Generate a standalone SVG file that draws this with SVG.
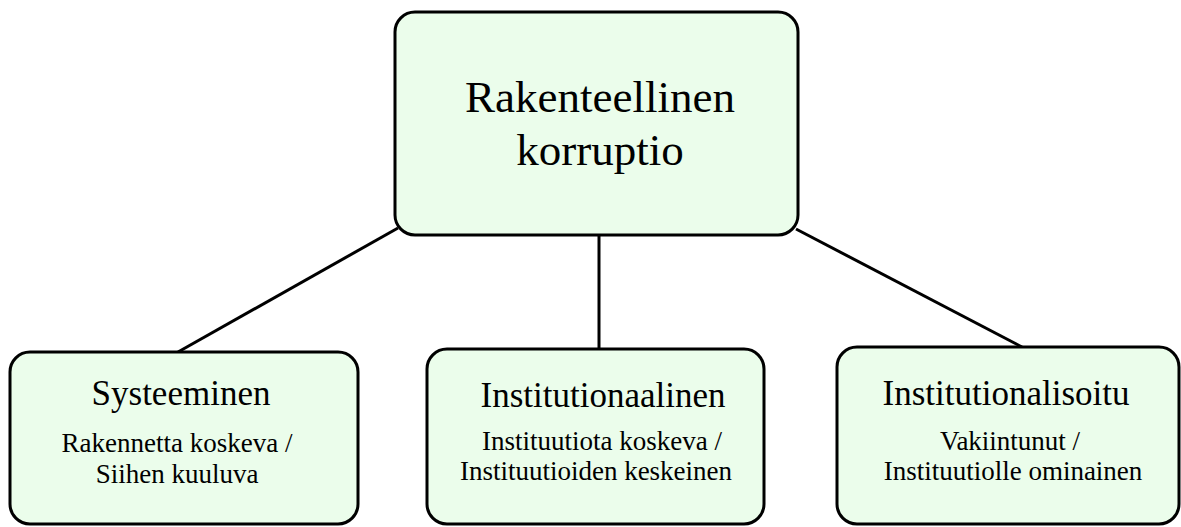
<svg xmlns="http://www.w3.org/2000/svg" width="1181" height="527" viewBox="0 0 1181 527">
<style>
.box{fill:#ebfdeb;stroke:#000;stroke-width:3}
.t{font-family:"Liberation Serif","Times New Roman",serif;fill:#000;text-anchor:middle}
.main{font-size:45px}
.title{font-size:35px}
.sub{font-size:27px}
.conn line{stroke:#000;stroke-width:3}
</style>
<rect width="1181" height="527" fill="#fff"/>
<g id="connectors" class="conn">
<line x1="398" y1="228" x2="178" y2="352"/>
<line x1="599" y1="235" x2="599" y2="349"/>
<line x1="796" y1="229" x2="1022" y2="347"/>
</g>
<g id="node-root">
<rect class="box" x="395" y="12" width="403" height="223" rx="20"/>
<text class="t main" x="600" y="112">Rakenteellinen</text>
<text class="t main" x="600" y="165">korruptio</text>
</g>
<g id="node-systeeminen">
<rect class="box" x="10" y="352" width="348" height="172" rx="20"/>
<text class="t title" x="181" y="405">Systeeminen</text>
<text class="t sub" x="177" y="452">Rakennetta koskeva /</text>
<text class="t sub" x="177" y="483">Siihen kuuluva</text>
</g>
<g id="node-institutionaalinen">
<rect class="box" x="427" y="349" width="337" height="175" rx="20"/>
<text class="t title" x="603" y="407">Institutionaalinen</text>
<text class="t sub" x="602" y="450">Instituutiota koskeva /</text>
<text class="t sub" x="596" y="480">Instituutioiden keskeinen</text>
</g>
<g id="node-institutionalisoitu">
<rect class="box" x="837" y="347" width="342" height="177" rx="20"/>
<text class="t title" x="1006" y="405">Institutionalisoitu</text>
<text class="t sub" x="1010" y="450">Vakiintunut /</text>
<text class="t sub" x="1013" y="480">Instituutiolle ominainen</text>
</g>
</svg>
